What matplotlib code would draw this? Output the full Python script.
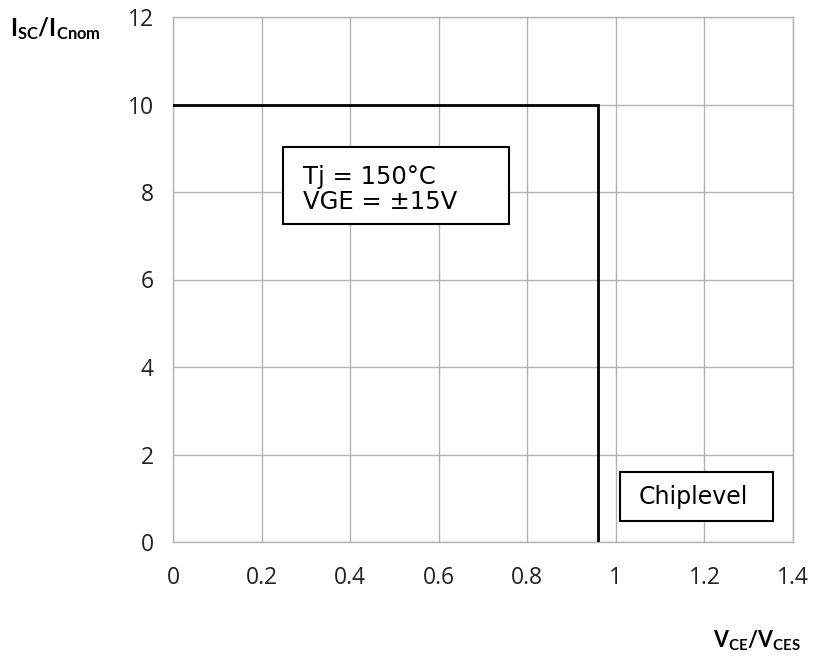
import matplotlib
matplotlib.use("Agg")
import matplotlib.pyplot as plt
from matplotlib.patches import Rectangle

# Data
curve_x = [0.0, 0.96, 0.96]
curve_y = [10.0, 10.0, 0.0]
xticks = [0, 0.2, 0.4, 0.6, 0.8, 1.0, 1.2, 1.4]
xticklabels = ["0", "0.2", "0.4", "0.6", "0.8", "1", "1.2", "1.4"]
yticks = [0, 2, 4, 6, 8, 10, 12]
note_text = "Tj = 150°C\nVGE = ±15V"
chip_text = "Chiplevel"

plt.rcParams['font.family'] = ['Open Sans', 'DejaVu Sans']
plt.rcParams['mathtext.fontset'] = 'custom'
plt.rcParams['mathtext.bf'] = 'Lato:bold'
plt.rcParams['mathtext.rm'] = 'Lato'

fig = plt.figure(figsize=(8.13, 6.57), dpi=100)
ax = fig.add_axes([173/813, 1-542/657, 620/813, 525/657])

ax.plot(curve_x, curve_y, color='black', lw=2, solid_joinstyle='miter', zorder=3)
ax.set_xlim(0, 1.4)
ax.set_ylim(0, 12)
ax.set_xticks(xticks)
ax.set_xticklabels(xticklabels)
ax.set_yticks(yticks)
ax.grid(True, color='#b3b3b3', lw=1)
for s in ax.spines.values():
    s.set_color('#b3b3b3')
    s.set_linewidth(1)
ax.tick_params(length=0, labelsize=16.5, colors='#222222')
ax.tick_params(axis='x', pad=17)
ax.tick_params(axis='y', pad=14)

fig.text(10/813, 1-29/657, r'$\mathbf{I_{SC}/I_{Cnom}}$', fontsize=17, va='center', ha='left')
fig.text(757/813, 1-641/657, r'$\mathbf{V_{CE}/V_{CES}}$', fontsize=15.5, va='center', ha='center')

# annotation boxes
ax.add_patch(Rectangle((0.248, 7.27), 0.759-0.248, 9.03-7.27, facecolor='white',
                       edgecolor='black', lw=1.5, zorder=4))
ax.text(0.2935, 8.06, note_text, fontsize=17.5, ha='left', va='center',
        family='DejaVu Sans', linespacing=1.08, zorder=5)
ax.add_patch(Rectangle((1.009, 0.48), 1.355-1.009, 1.6-0.48, facecolor='white',
                       edgecolor='black', lw=1.5, zorder=4))
ax.text(1.176, 1.02, chip_text, fontsize=17, ha='center', va='center',
        family='DejaVu Sans', zorder=5)

fig.savefig("out.png", dpi=100)
